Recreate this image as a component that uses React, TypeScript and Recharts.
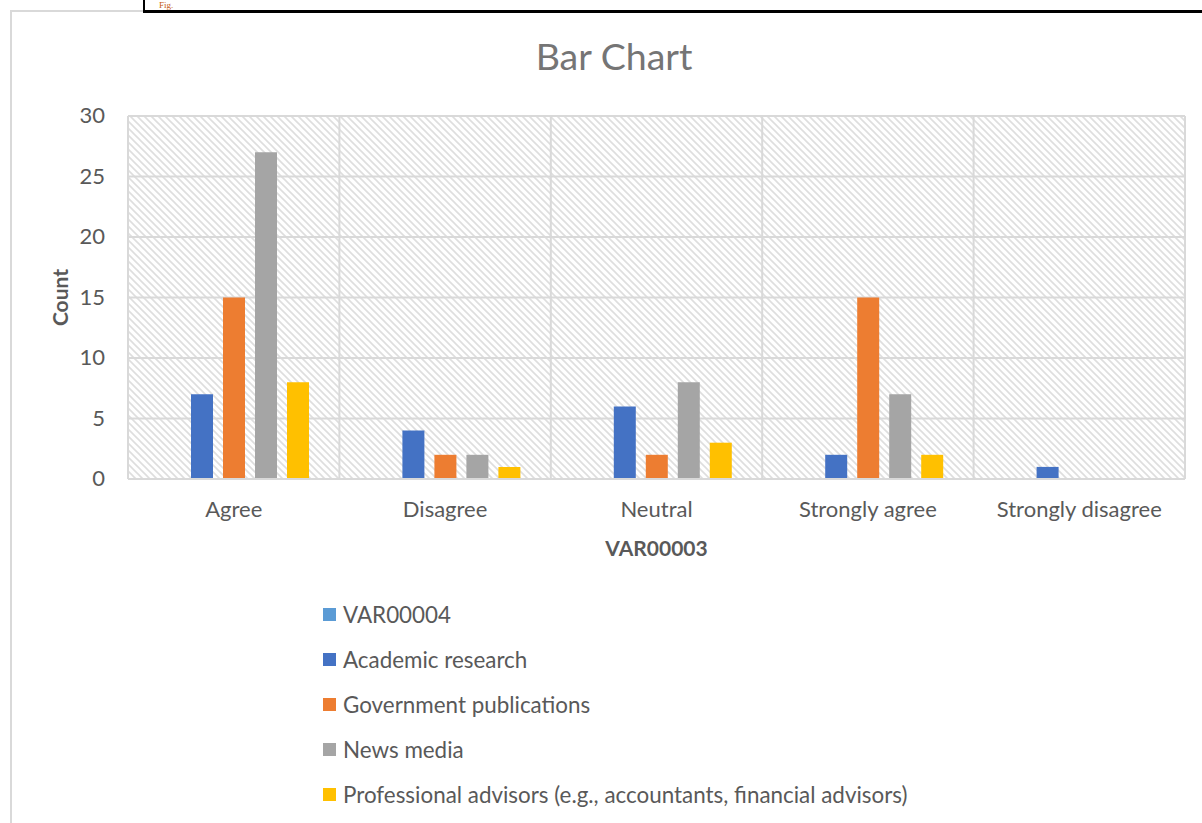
import React from 'react';
import { BarChart, Bar, XAxis, YAxis, CartesianGrid, Legend } from 'recharts';

const categories = ['Agree', 'Disagree', 'Neutral', 'Strongly agree', 'Strongly disagree'];
const var00004: (number | null)[] = [null, null, null, null, null];
const academicResearch: (number | null)[] = [7, 4, 6, 2, 1];
const governmentPublications: (number | null)[] = [15, 2, 2, 15, null];
const newsMedia: (number | null)[] = [27, 2, 8, 7, null];
const professionalAdvisors: (number | null)[] = [8, 1, 3, 2, null];
const yTicks = [0, 5, 10, 15, 20, 25, 30];

const seriesKeys = ['var00004', 'academic', 'government', 'news', 'professional'];
const seriesNames = [
  'VAR00004',
  'Academic research',
  'Government publications',
  'News media',
  'Professional advisors (e.g., accountants, financial advisors)',
];
const seriesColors = ['#5B9BD5', '#4472C4', '#ED7D31', '#A5A5A5', '#FFC000'];
const seriesValues = [var00004, academicResearch, governmentPublications, newsMedia, professionalAdvisors];

const data = categories.map((c, i) => {
  const row: Record<string, any> = { category: c };
  seriesKeys.forEach((k, s) => {
    row[k] = seriesValues[s][i];
  });
  return row;
});

const FONT = "Lato, 'Noto Sans', sans-serif";
const TEXT = '#595959';
const GRID = '#D9D9D9';

const YTick = (props: any) => (
  <text x={props.x} y={props.y} dy={7} textAnchor="end" fill={TEXT} fontSize={22} fontFamily={FONT}>
    {props.payload.value}
  </text>
);

const XTick = (props: any) => (
  <text x={props.x} y={props.y} dy={38} textAnchor="middle" fill={TEXT} fontSize={22} fontFamily={FONT}>
    {props.payload.value}
  </text>
);

const LegendContent = () => (
  <div style={{ fontFamily: FONT }}>
    {seriesNames.map((n, i) => (
      <div key={n} style={{ height: 45, display: 'flex', alignItems: 'center', whiteSpace: 'nowrap' }}>
        <span style={{ display: 'inline-block', width: 13, height: 13, background: seriesColors[i], marginRight: 7 }} />
        <span style={{ fontSize: 22.4, color: TEXT }}>{n}</span>
      </div>
    ))}
  </div>
);

export default function App() {
  return (
    <div style={{ position: 'absolute', left: 0, top: 0, width: 1202, height: 823, overflow: 'hidden', background: '#fff' }}>
      <div style={{ position: 'absolute', left: 10, top: 10, width: 1300, height: 900, border: `2px solid ${GRID}` }} />
      <div style={{ position: 'absolute', left: 143, top: -100, width: 1200, height: 108, borderStyle: 'solid', borderColor: '#000', borderWidth: '2px 2px 3px 2px' }}>
        <span style={{ position: 'absolute', left: 14, bottom: 0, lineHeight: '9px', fontFamily: "'Liberation Serif', serif", fontSize: 9, color: '#C55A11' }}>Fig.</span>
      </div>
      <div style={{ position: 'absolute', left: 414, width: 400, top: 35, lineHeight: '42px', textAlign: 'center', fontFamily: FONT, fontSize: 37.5, color: '#757575' }}>
        Bar Chart
      </div>
      <div style={{ position: 'absolute', left: 0, top: 0 }}>
        <BarChart
          width={1202}
          height={823}
          data={data}
          margin={{ top: 116, right: 17, bottom: 254, left: 48 }}
          barCategoryGap={31}
          barGap={10}
        >
          <defs>
            <pattern id="hatch" patternUnits="userSpaceOnUse" width="7" height="7">
              <rect width="7" height="7" fill="#fff" />
              <path d="M-1,-1 L8,8 M-1,6 L1,8 M6,-1 L8,1" stroke="#DEDEDE" strokeWidth="1.6" />
            </pattern>
          </defs>
          <CartesianGrid
            fill="url(#hatch)"
            fillOpacity={1}
            stroke={GRID}
            strokeWidth={2}
            verticalCoordinatesGenerator={({ offset }: any) =>
              [0, 1, 2, 3, 4, 5].map((i) => offset.left + (offset.width * i) / categories.length)
            }
          />
          <XAxis
            dataKey="category"
            height={90}
            tickLine={false}
            tickSize={0}
            tickMargin={0}
            axisLine={{ stroke: GRID, strokeWidth: 2 }}
            tick={<XTick />}
            interval={0}
            label={(p: any) => {
              const vb = p.viewBox;
              return (
                <text x={vb.x + vb.width / 2} y={vb.y + 77} textAnchor="middle" fill={TEXT} fontSize={21} fontWeight="bold" fontFamily={FONT}>
                  VAR00003
                </text>
              );
            }}
          />
          <YAxis
            width={80}
            domain={[0, 30]}
            ticks={yTicks}
            interval={0}
            tickLine={false}
            axisLine={false}
            tickSize={0}
            tickMargin={23}
            tick={<YTick />}
            label={(p: any) => {
              const vb = p.viewBox;
              const cx = 61;
              const cy = vb.y + vb.height / 2;
              return (
                <text x={cx} y={cy} transform={`rotate(-90, ${cx}, ${cy})`} dy={7} textAnchor="middle" fill={TEXT} fontSize={21} fontWeight="bold" fontFamily={FONT}>
                  Count
                </text>
              );
            }}
          />
          <Legend
            layout="horizontal"
            verticalAlign="middle"
            align="center"
            wrapperStyle={{ left: 323, top: 592, width: 'auto', height: 'auto' }}
            content={<LegendContent />}
          />
          {seriesKeys.map((k, i) => (
            <Bar key={k} dataKey={k} name={seriesNames[i]} fill={seriesColors[i]} isAnimationActive={false} />
          ))}
        </BarChart>
      </div>
    </div>
  );
}
